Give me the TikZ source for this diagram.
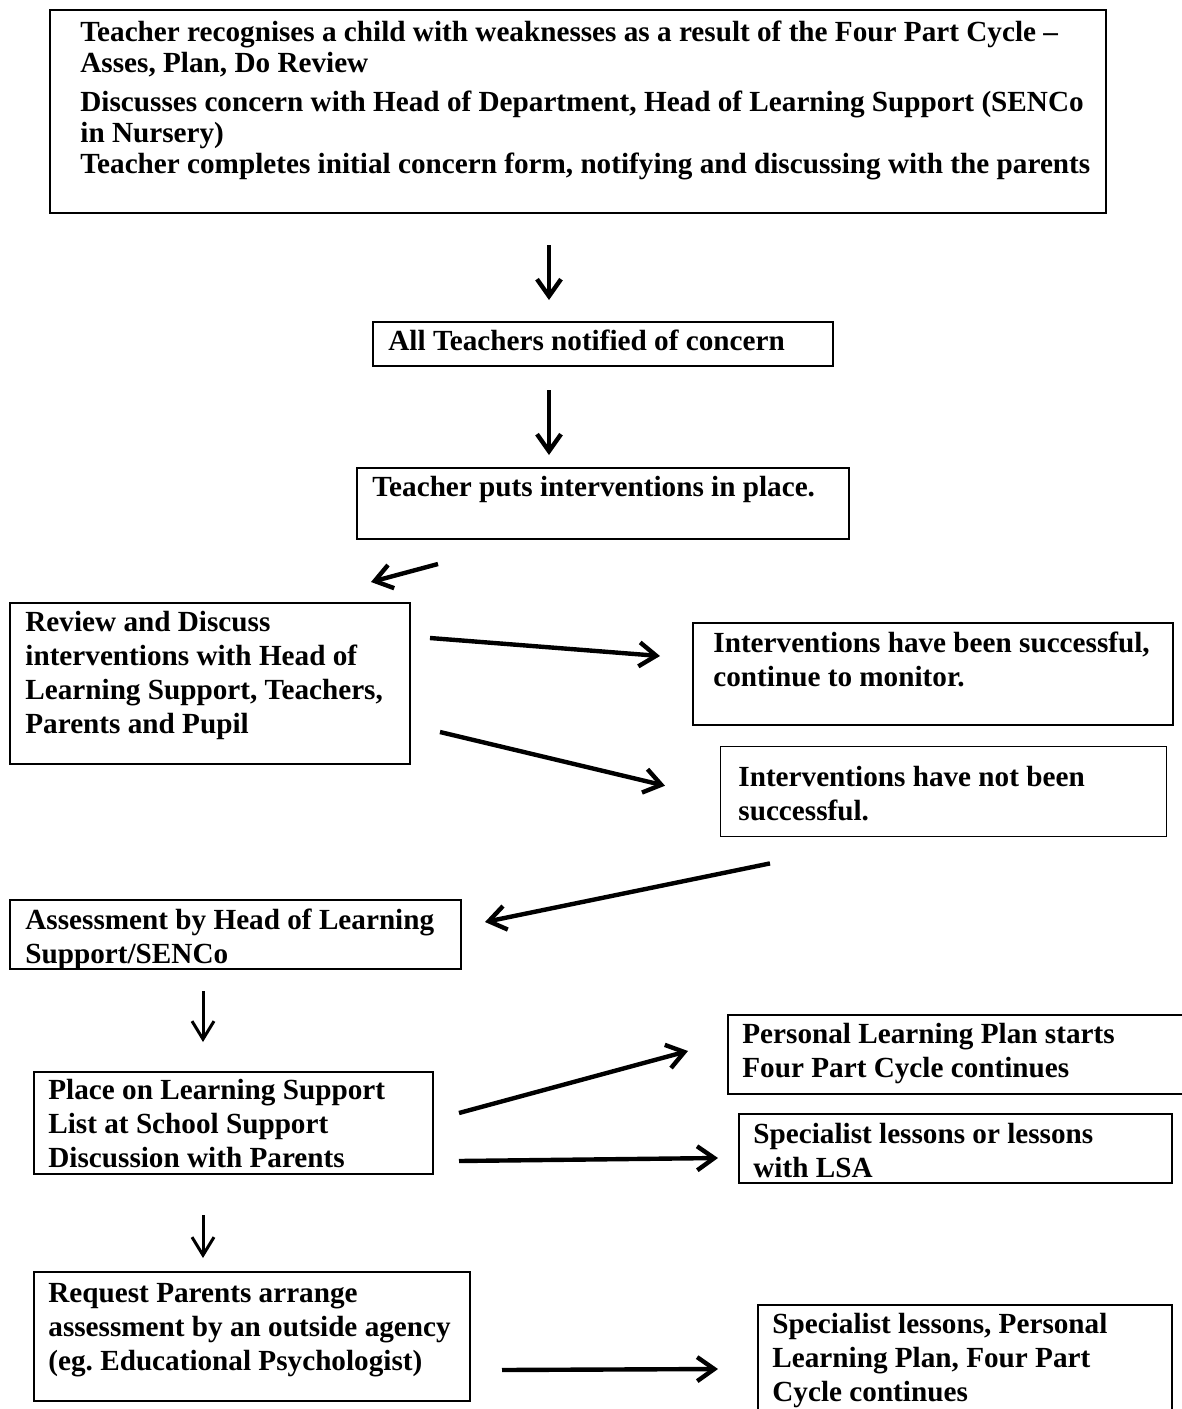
\documentclass[tikz,border=0pt]{standalone}
\usepackage{fontspec}
\setmainfont{Liberation Serif}
\usetikzlibrary{arrows.meta, calc, positioning}

\begin{document}
\begin{tikzpicture}[x=0.5pt, y=-0.5pt,
    stage/.style={draw, line width=1pt, inner sep=0pt, anchor=north west},
    stagetext/.style={anchor=north west, align=left, inner sep=0pt, yshift=9.4pt,
      execute at begin node=\strut, font=\bfseries\fontsize{14.6}{17}\selectfont},
    flow/.style={line width=2.2pt, -{Straight Barb[length=8.5pt, width=12pt]}},
    thinflow/.style={line width=1.5pt, -{Straight Barb[length=9pt, width=11pt]}}]
  \useasboundingbox (0,0) rectangle (1182,1409);

  % Boxes
  \node[stage, minimum width=528pt, minimum height=101.5pt] (concern) at (49,9) {};
  \node[stage, minimum width=230pt, minimum height=22pt] (notify) at (372,321) {};
  \node[stage, minimum width=246pt, minimum height=35.5pt] (interv) at (356,467) {};
  \node[stage, minimum width=200pt, minimum height=80.5pt] (review) at (9,602) {};
  \node[stage, minimum width=240pt, minimum height=51pt] (success) at (692,622) {};
  \node[stage, line width=0.7pt, minimum width=223pt, minimum height=45pt] (notsucc) at (720,746) {};
  \node[stage, minimum width=225.5pt, minimum height=34.5pt] (assess) at (9,899) {};
  \node[stage, minimum width=199.5pt, minimum height=51pt] (place) at (33,1071) {};
  \node[stage, minimum width=230pt, minimum height=39.5pt] (plan) at (727,1014) {};
  \node[stage, minimum width=216.5pt, minimum height=34.5pt] (lsa) at (738,1113) {};
  \node[stage, minimum width=218pt, minimum height=64.5pt] (request) at (33,1271) {};
  \node[stage, minimum width=207pt, minimum height=57.5pt] (final) at (757,1304) {};

  % Texts (placed at the first baseline)
  \node[stagetext, yshift=1.45pt, font=\bfseries\fontsize{14.6}{15.5}\selectfont] (concerntext) at (80,42)
    {Teacher recognises a child with weaknesses as a result of the Four Part Cycle --\\
     Asses, Plan, Do Review\\[4pt]
     Discusses concern with Head of Department, Head of Learning Support (SENCo\\
     in Nursery)\\
     Teacher completes initial concern form, notifying and discussing with the parents};
  \node[stagetext] (notifytext) at (388,345) {All Teachers notified of concern};
  \node[stagetext] (intervtext) at (372,491) {Teacher puts interventions in place.};
  \node[stagetext] (reviewtext) at (25,630)
    {Review and Discuss\\ interventions with Head of\\ Learning Support, Teachers,\\ Parents and Pupil};
  \node[stagetext] (successtext) at (713,650)
    {Interventions have been successful,\\ continue to monitor.};
  \node[stagetext] (notsucctext) at (738,785) {Interventions have not been\\ successful.};
  \node[stagetext] (assesstext) at (25,927) {Assessment by Head of Learning\\ Support/SENCo};
  \node[stagetext] (placetext) at (48,1098)
    {Place on Learning Support\\ List at School Support\\ Discussion with Parents};
  \node[stagetext] (plantext) at (742,1042) {Personal Learning Plan starts\\ Four Part Cycle continues};
  \node[stagetext] (lsatext) at (753,1142) {Specialist lessons or lessons\\ with LSA};
  \node[stagetext] (requesttext) at (48,1302)
    {Request Parents arrange\\ assessment by an outside agency\\ (eg.\ Educational Psychologist)};
  \node[stagetext] (finaltext) at (772,1332)
    {Specialist lessons, Personal\\ Learning Plan, Four Part\\ Cycle continues};

  % Arrows
  \draw[flow] ($(concern.south)+(-29,31)$) -- ($(notify.north)+(-54,-21)$);
  \draw[flow] ($(notify.south)+(-54,23)$) -- ($(interv.north)+(-54,-12)$);
  \draw[flow] ($(interv.south)+(-165,24)$) -- ($(review.north)+(161,-20)$);
  \draw[flow] ($(review.north east)+(19,36)$) -- ($(success.north west)+(-32,34)$);
  \draw[flow] ($(review.south east)+(29,-33)$) -- ($(notsucc.west)+(-55,-6)$);
  \draw[flow] ($(notsucc.south west)+(50,26)$) -- ($(assess.east)+(23,-12.5)$);
  \draw[thinflow] ($(assess.south)+(-32.5,21)$) -- ($(place.north)+(-30.5,-29)$);
  \draw[flow] ($(place.east)+(25,-10)$) -- ($(plan.west)+(-39,-3.5)$);
  \draw[flow] ($(place.south east)+(25,-14)$) -- ($(lsa.west)+(-20,9.5)$);
  \draw[thinflow] ($(place.south)+(-30.5,40)$) -- ($(request.north)+(-49,-13)$);
  \draw[flow] ($(request.south east)+(31,-32)$) -- ($(final.west)+(-39,6.5)$);
\end{tikzpicture}
\end{document}
